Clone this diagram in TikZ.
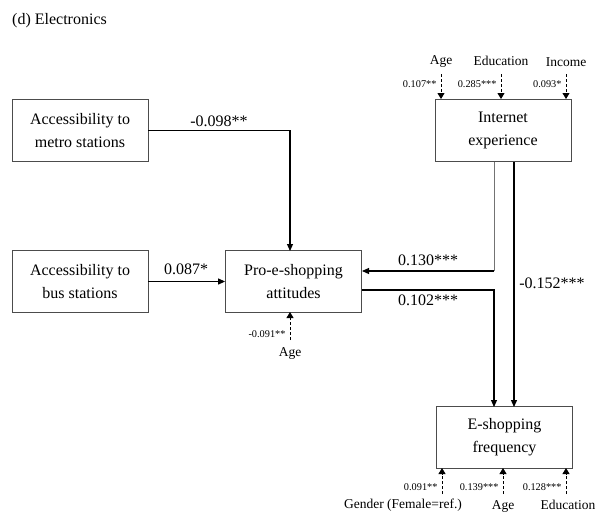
\documentclass[tikz,border=0pt]{standalone}
\usepackage{fontspec}
\setmainfont{Liberation Serif}
\usetikzlibrary{arrows.meta}
\begin{document}
\begin{tikzpicture}[x=1pt,y=-1pt,
  box/.style={draw=black!70,line width=0.8pt,minimum width=136pt,minimum height=62pt,align=center,font=\fontsize{16}{23}\selectfont,inner sep=0pt},
  path/.style={line width=1.1pt,-{Triangle[length=7pt,width=6pt]}},
  cov/.style={line width=0.9pt,dash pattern=on 3pt off 2pt,-{Triangle[length=6pt,width=7pt]}},
  lbl/.style={font=\fontsize{16}{18}\selectfont},
  cf/.style={font=\fontsize{10.3}{11}\selectfont,anchor=east},
  cn/.style={font=\fontsize{13.5}{14}\selectfont}]
\useasboundingbox (0,0) rectangle (607,517);
\node[anchor=west,font=\fontsize{16}{18}\selectfont,inner sep=0pt] (title) at (12,21) {(d) Electronics};
\node[box] (metro) at (80,130.5) {Accessibility to\\metro stations};
\node[box] (bus) at (80,281.5) {Accessibility to\\bus stations};
\node[box] (pro) at (293.5,281.5) {Pro-e-shopping\\attitudes};
\node[box] (inet) at (503,130.5) {Internet\\experience};
\node[box] (eshop) at (504.5,437.5) {E-shopping\\frequency};
% paths
\draw[path] (metro.east) -- (290,130.5) -- (290,251) coordinate (proT);
\node[lbl] (l1) at (219,121) {-0.098**};
\draw[path] (bus.east) -- (pro.west);
\node[lbl] (l2) at (186,269) {0.087*};
\draw[draw=black!55,line width=1pt] (494,162) -- (494,271) coordinate (bend);
\draw[path] (bend) -- (362,271);
\node[lbl] (l3) at (428,260) {0.130***};
\draw[path,line width=1.3pt] (514,162) -- (514,407);
\node[lbl] (l4) at (552,283) {-0.152***};
\draw[path] (362,290) -- (494,290) -- (494,407);
\node[lbl] (l5) at (428,300) {0.102***};
% covariates of internet experience
\node[cn] (ia) at (441,61) {Age};
\node[cn] (ie) at (501,61) {Education};
\node[cn] (ii) at (566,62) {Income};
\draw[cov] (441,74) -- (441,99);
\draw[cov] (501,74) -- (501,99);
\draw[cov] (566,74) -- (566,99);
\node[cf] (c1) at (440,84) {0.107**};
\node[cf] (c2) at (500,84) {0.285***};
\node[cf] (c3) at (565,84) {0.093*};
% covariate of attitudes
\draw[cov] (290,340) -- (290,312);
\node[cn] (pa) at (290,353) {Age};
\node[cf] (c4) at (289,334) {-0.091**};
% covariates of e-shopping frequency
\draw[cov] (442,494) -- (442,468);
\draw[cov] (503,494) -- (503,468);
\draw[cov] (566,494) -- (566,468);
\node[cf] (c5) at (441,487) {0.091**};
\node[cf] (c6) at (502,487) {0.139***};
\node[cf] (c7) at (565,487) {0.128***};
\node[cn] (eg) at (403,505) {Gender (Female=ref.)};
\node[cn] (ea) at (503,506) {Age};
\node[cn] (ed) at (568,505) {Education};
\end{tikzpicture}
\end{document}
